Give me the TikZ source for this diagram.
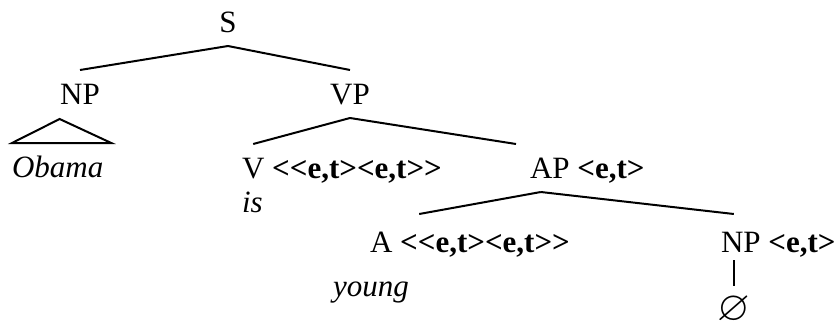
\documentclass[tikz,border=0pt]{standalone}
\usepackage{fontspec}
\setmainfont{Liberation Serif}[Ligatures=TeXOff]
\usepackage{amssymb}
\usetikzlibrary{positioning}

\begin{document}
\begin{tikzpicture}[x=0.5pt, y=-0.5pt, line width=1pt,
	every node/.style={font=\fontsize{15.5}{18}\selectfont, inner sep=0pt, outer xsep=0pt, outer ysep=7pt, text height=10pt, text depth=0pt},
	cat/.style={anchor=base},
	typ/.style={font=\fontsize{15.5}{18}\selectfont\bfseries},
	word/.style={font=\fontsize{15.5}{18}\selectfont\itshape, anchor=base west}]
	\useasboundingbox (0,0) rectangle (840,322);
	% categories and types
	\node[cat] (S) at (228,32) {S};
	\node[cat] (NPs) at (80,104) {NP};
	\node[cat] (VP) at (350,104) {VP};
	\node[cat, anchor=base west] (V) at (242,178) {V};
	\node[typ, base right=3.9pt of V] (Vt) {<<e,t><e,t>>};
	\node[cat, anchor=base west] (AP) at (530,178) {AP};
	\node[typ, base right=3.9pt of AP] (APt) {<e,t>};
	\node[cat, anchor=base west] (A) at (370,252) {A};
	\node[typ, base right=3.9pt of A] (At) {<<e,t><e,t>>};
	\node[cat, anchor=base west] (NPz) at (721,252) {NP};
	\node[typ, base right=3.9pt of NPz] (NPzt) {<e,t>};
	% words
	\node[word] (obama) at (12,177) {Obama};
	\node[word] (is) at (242,212) {is};
	\node[word] (young) at (333,296) {young};
	\node[cat, font=\fontsize{21}{24}\selectfont] (nil) at (734,320) {$\varnothing$};
	% branches
	\draw (S.south) -- (NPs.north);
	\draw (S.south) -- (VP.north);
	\draw (VP.south) -- (V.north);
	\draw (VP.south) -- ([xshift=-7pt]AP.north west);
	\draw ([xshift=-4.5pt]AP.south) -- ([xshift=19pt,yshift=2pt]A.north);
	\draw ([xshift=-4.5pt]AP.south) -- ([xshift=-3.5pt,yshift=2pt]NPz.north);
	\draw ([yshift=3pt]nil.north |- NPz.south) -- (nil.north);
	\draw (obama.north west) -- ([xshift=1pt,yshift=12pt]obama.north) -- ([xshift=4pt]obama.north east) -- cycle;
\end{tikzpicture}
\end{document}
